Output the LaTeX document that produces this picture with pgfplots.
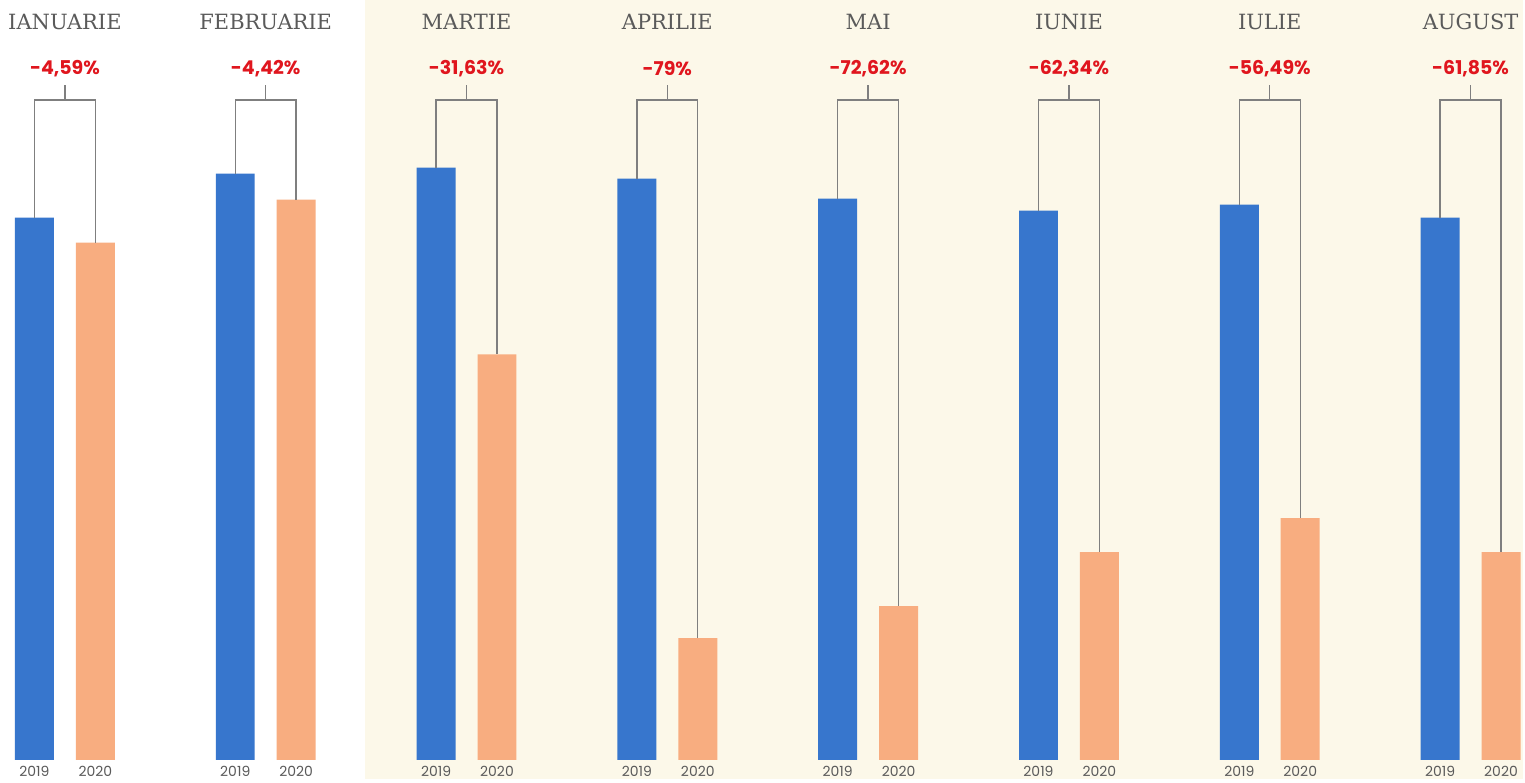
\documentclass[border=0pt]{standalone}
\usepackage{pgfplots}
\usepackage{pgfplotstable}
\pgfplotsset{compat=1.18}
\usepackage{fontspec}
\setmainfont{DejaVu Serif}
\newfontfamily\monthfont{DejaVu Serif}
\newfontfamily\pctfont{Poppins}
\newfontfamily\yearfont{Poppins}

\definecolor{blue19}{HTML}{3776CD}
\definecolor{orange20}{HTML}{F8AD80}
\definecolor{cream}{HTML}{FCF8E9}
\definecolor{pctred}{HTML}{E0161E}
\definecolor{txtgray}{HTML}{5A5A5A}
\definecolor{brk}{HTML}{7F7F7F}

% heights in px above the baseline, x = centre of the 2019 bar
\pgfplotstableread{
x      h19 h20 pct   month
34.5   543 518 4,59  IANUARIE
235.6  587 561 4,42  FEBRUARIE
436.7  593 406 31,63 MARTIE
637.8  582 122 79    APRILIE
838.9  562 154 72,62 MAI
1040.0 550 208 62,34 IUNIE
1241.1 556 242 56,49 IULIE
1442.2 543 208 61,85 AUGUST
}\data

\begin{document}
\begin{tikzpicture}[x=0.5pt,y=0.5pt,
  bracket/.style={draw=brk, line width=0.7pt},
  mlabel/.style={font=\monthfont\fontsize{10.5}{12}\selectfont, text=txtgray},
  plabel/.style={font=\pctfont\bfseries\fontsize{9.5}{11}\selectfont, text=pctred},
  yrlabel/.style={font=\yearfont\fontsize{7}{8}\selectfont, text=txtgray}]
% page background: white for Jan-Feb, cream from March on
\fill[white] (0,0) rectangle (366,780);
\fill[cream] (366,0) rectangle (1525,780);
\begin{axis}[
  at={(0,0)}, anchor=south west,
  scale only axis, width=762.5pt, height=390pt,
  xmin=0, xmax=1525, ymin=-19, ymax=761,
  hide axis, clip=false,
]
\addplot[ybar, bar width=39, bar shift=0pt, fill=blue19, draw=none]
  table[x=x, y=h19]{\data};
\addplot[ybar, bar width=39, bar shift=0pt, fill=orange20, draw=none]
  table[x expr=\thisrow{x}+61, y=h20]{\data};

\pgfplotsforeachungrouped \i in {0,...,7}{
  \pgfplotstablegetelem{\i}{x}\of\data \let\xb\pgfplotsretval
  \pgfplotstablegetelem{\i}{h19}\of\data \let\hb\pgfplotsretval
  \pgfplotstablegetelem{\i}{h20}\of\data \let\ho\pgfplotsretval
  \pgfplotstablegetelem{\i}{pct}\of\data \let\pc\pgfplotsretval
  \pgfplotstablegetelem{\i}{month}\of\data \let\mo\pgfplotsretval
  \pgfmathsetmacro\xo{\xb+61}
  \pgfmathsetmacro\xm{\xb+30.5}
  \edef\tmp{%
    \noexpand\draw[bracket] (axis cs:\xb,\hb) |- (axis cs:\xo,661) -- (axis cs:\xo,\ho);
    \noexpand\draw[bracket] (axis cs:\xm,661) -- (axis cs:\xm,676);
    \noexpand\node[plabel] at (axis cs:\xm,692) {-\pc\noexpand\%};
    \noexpand\node[mlabel] at (axis cs:\xm,739) {\mo};
    \noexpand\node[yrlabel] at (axis cs:\xb,-11) {2019};
    \noexpand\node[yrlabel] at (axis cs:\xo,-11) {2020};
  }\tmp
}
\end{axis}
\end{tikzpicture}
\end{document}
